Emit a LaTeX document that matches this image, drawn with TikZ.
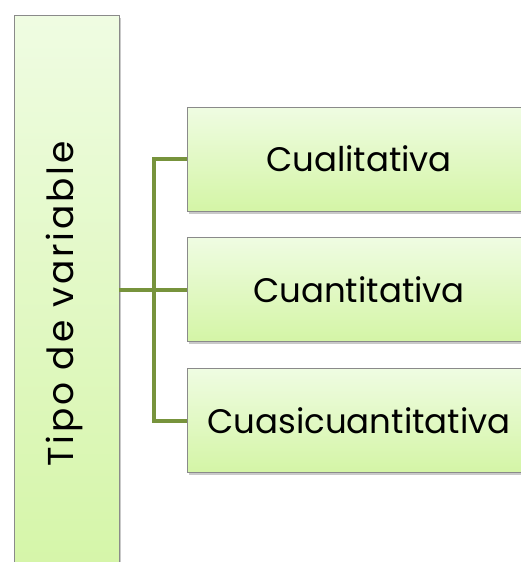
\documentclass[tikz,border=0pt]{standalone}
\usepackage{fontspec}
\setmainfont{Poppins}
\newfontfamily\widefont[LetterSpace=8]{Poppins}
\usetikzlibrary{shadows}
\definecolor{linkgreen}{HTML}{77933C}
\definecolor{boxtop}{HTML}{EFFCE2}
\definecolor{boxbot}{HTML}{D4F5A6}
\definecolor{boxedge}{HTML}{8A8A8A}
\tikzset{
  box/.style={draw=boxedge, line width=0.8pt, top color=boxtop, bottom color=boxbot,
    drop shadow={shadow xshift=1.5pt, shadow yshift=-2.5pt, opacity=0.35, fill=black!60},
    inner sep=0pt, font=\fontsize{34}{38}\selectfont},
  link/.style={draw=linkgreen, line width=4pt}
}
\begin{document}
\begin{tikzpicture}[x=1pt,y=-1pt]
\useasboundingbox (0,0) rectangle (521,562);
\clip (0,0) rectangle (521,562);
\fill[white] (0,0) rectangle (521,562);
\node[box, minimum width=105pt, minimum height=578pt] (L) at (66.5,304) {};
\node[rotate=90, inner sep=0pt, font=\widefont\fontsize{36}{40}\selectfont] (Lt) at (64,304) {Tipo de variable};
\node[box, minimum width=344pt, minimum height=104pt] (B1) at (359,159) {Cualitativa};
\node[box, minimum width=344pt, minimum height=104pt] (B2) at (359,289.5) {Cuantitativa};
\node[box, minimum width=344pt, minimum height=104pt] (B3) at (359,420.5) {Cuasicuantitativa};
\coordinate (S) at (154,0);
\draw[link] (L.east |- B2.west) -- (B2.west);
\draw[link, line join=miter] (B1.west) -- (S |- B1.west) -- (S |- B3.west) -- (B3.west);
\end{tikzpicture}
\end{document}
